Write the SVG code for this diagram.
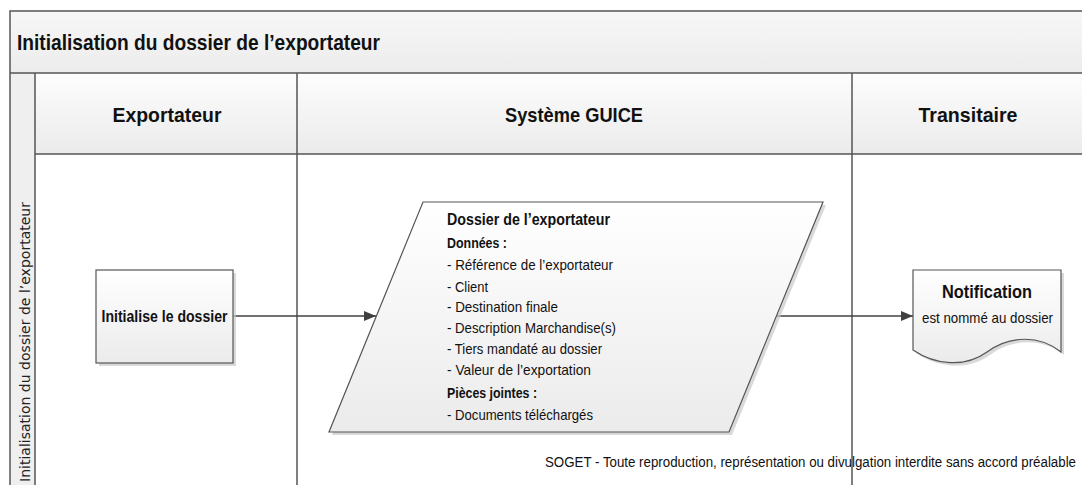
<svg xmlns="http://www.w3.org/2000/svg" width="1082" height="485" viewBox="0 0 1082 485">
  <defs>
    <linearGradient id="bandFill" x1="0" y1="0" x2="0" y2="1">
      <stop offset="0" stop-color="#f7f7f7"/>
      <stop offset="1" stop-color="#ececec"/>
    </linearGradient>
    <linearGradient id="headFill" x1="0" y1="0" x2="0" y2="1">
      <stop offset="0" stop-color="#fdfdfd"/>
      <stop offset="1" stop-color="#ebebeb"/>
    </linearGradient>
    <linearGradient id="shapeFill" x1="0" y1="0" x2="0" y2="1">
      <stop offset="0" stop-color="#ffffff"/>
      <stop offset="1" stop-color="#ebebeb"/>
    </linearGradient>
    <marker id="arrow" viewBox="0 0 12 10" refX="12" refY="5" markerWidth="12" markerHeight="10" markerUnits="userSpaceOnUse" orient="auto">
      <path d="M0,0 L12,5 L0,10 Z" fill="#404040"/>
    </marker>
    <style>
      .frame { stroke: #555555; stroke-width: 1.5; fill: none; }
      .shape { fill: url(#shapeFill); stroke: #555555; stroke-width: 1.2; }
      .shadow { fill: #c9c9c9; opacity: 0.7; }
      .conn { stroke: #404040; stroke-width: 1.5; fill: none; }
      .sans { font-family: "Liberation Sans", Arial, sans-serif; fill: #111111; }
      .bold { font-weight: bold; }
      .head { font-size: 21px; font-weight: bold; text-anchor: middle; }
      .item { font-size: 15px; }
      .lane-label { font-family: "DejaVu Sans", Verdana, sans-serif; font-size: 13.5px; fill: #222222; }
    </style>
  </defs>

  <!-- pool background -->
  <rect x="0" y="0" width="1082" height="485" fill="#ffffff"/>
  <rect x="10" y="11" width="1072" height="62" fill="url(#bandFill)"/>
  <rect x="10" y="73" width="25" height="412" fill="#efefef"/>
  <rect x="35" y="73" width="1047" height="81" fill="url(#headFill)"/>

  <!-- pool title -->
  <text class="sans bold" x="17" y="50" font-size="22" textLength="363" lengthAdjust="spacingAndGlyphs">Initialisation du dossier de l’exportateur</text>

  <!-- vertical phase label -->
  <text class="lane-label" transform="translate(30,482) rotate(-90)" x="0" y="0" textLength="280" lengthAdjust="spacingAndGlyphs">Initialisation du dossier de l’exportateur</text>

  <!-- lane headers -->
  <g id="lane-exportateur">
    <text class="sans head" x="167" y="122" textLength="109" lengthAdjust="spacingAndGlyphs">Exportateur</text>
  </g>
  <g id="lane-guice">
    <text class="sans head" x="574" y="122" textLength="138" lengthAdjust="spacingAndGlyphs">Système GUICE</text>
  </g>
  <g id="lane-transitaire">
    <text class="sans head" x="968" y="122" textLength="99" lengthAdjust="spacingAndGlyphs">Transitaire</text>
  </g>

  <!-- footer notice -->
  <text class="sans" x="545" y="467" font-size="15.5" textLength="531" lengthAdjust="spacingAndGlyphs">SOGET - Toute reproduction, représentation ou divulgation interdite sans accord préalable</text>

  <!-- frame and lane grid -->
  <g id="grid">
    <path class="frame" d="M10,485 V11 H1082"/>
    <path class="frame" d="M10,73 H1082"/>
    <path class="frame" d="M35,73 V485"/>
    <path class="frame" d="M35,154 H1082"/>
    <path class="frame" d="M297,73 V485"/>
    <path class="frame" d="M852,73 V485"/>
  </g>

  <!-- connectors -->
  <g id="connectors">
    <path class="conn" d="M233,316 H376" marker-end="url(#arrow)"/>
    <path class="conn" d="M776,316 H913" marker-end="url(#arrow)"/>
  </g>

  <!-- process: Initialise le dossier -->
  <g id="node-initialise">
    <rect class="shadow" x="99" y="273" width="137" height="93"/>
    <rect class="shape" x="96" y="270" width="137" height="93"/>
    <text class="sans bold" x="164.5" y="322" font-size="16.5" text-anchor="middle" textLength="126" lengthAdjust="spacingAndGlyphs">Initialise le dossier</text>
  </g>

  <!-- data: Dossier de l'exportateur -->
  <g id="node-dossier">
    <path class="shadow" d="M426,205 H826 L732,435 H332 Z"/>
    <path class="shape" d="M423,202 H823 L729,432 H329 Z"/>
    <text class="sans bold" x="447" y="225" font-size="16.5" textLength="163" lengthAdjust="spacingAndGlyphs">Dossier de l’exportateur</text>
    <text class="sans bold item" x="447" y="248" textLength="60" lengthAdjust="spacingAndGlyphs">Données :</text>
    <text class="sans item" x="447" y="270" textLength="166" lengthAdjust="spacingAndGlyphs">- Référence de l’exportateur</text>
    <text class="sans item" x="447" y="292" textLength="41" lengthAdjust="spacingAndGlyphs">- Client</text>
    <text class="sans item" x="447" y="312" textLength="111" lengthAdjust="spacingAndGlyphs">- Destination finale</text>
    <text class="sans item" x="447" y="333" textLength="169" lengthAdjust="spacingAndGlyphs">- Description Marchandise(s)</text>
    <text class="sans item" x="447" y="354" textLength="155" lengthAdjust="spacingAndGlyphs">- Tiers mandaté au dossier</text>
    <text class="sans item" x="447" y="375" textLength="144" lengthAdjust="spacingAndGlyphs">- Valeur de l’exportation</text>
    <text class="sans bold item" x="447" y="398" textLength="90" lengthAdjust="spacingAndGlyphs">Pièces jointes :</text>
    <text class="sans item" x="447" y="420" textLength="146" lengthAdjust="spacingAndGlyphs">- Documents téléchargés</text>
  </g>

  <!-- document: Notification -->
  <g id="node-notification">
    <path class="shadow" d="M916,273 H1064 V355 C1043,338 1013,338 990,355 C968,371 938,368 916,353 Z"/>
    <path class="shape" d="M913,270 H1061 V352 C1040,335 1010,335 987,352 C965,368 935,365 913,350 Z"/>
    <text class="sans bold" x="987" y="298" font-size="19" text-anchor="middle" textLength="90" lengthAdjust="spacingAndGlyphs">Notification</text>
    <text class="sans" x="987.5" y="323" font-size="15" text-anchor="middle" textLength="131" lengthAdjust="spacingAndGlyphs">est nommé au dossier</text>
  </g>
</svg>
